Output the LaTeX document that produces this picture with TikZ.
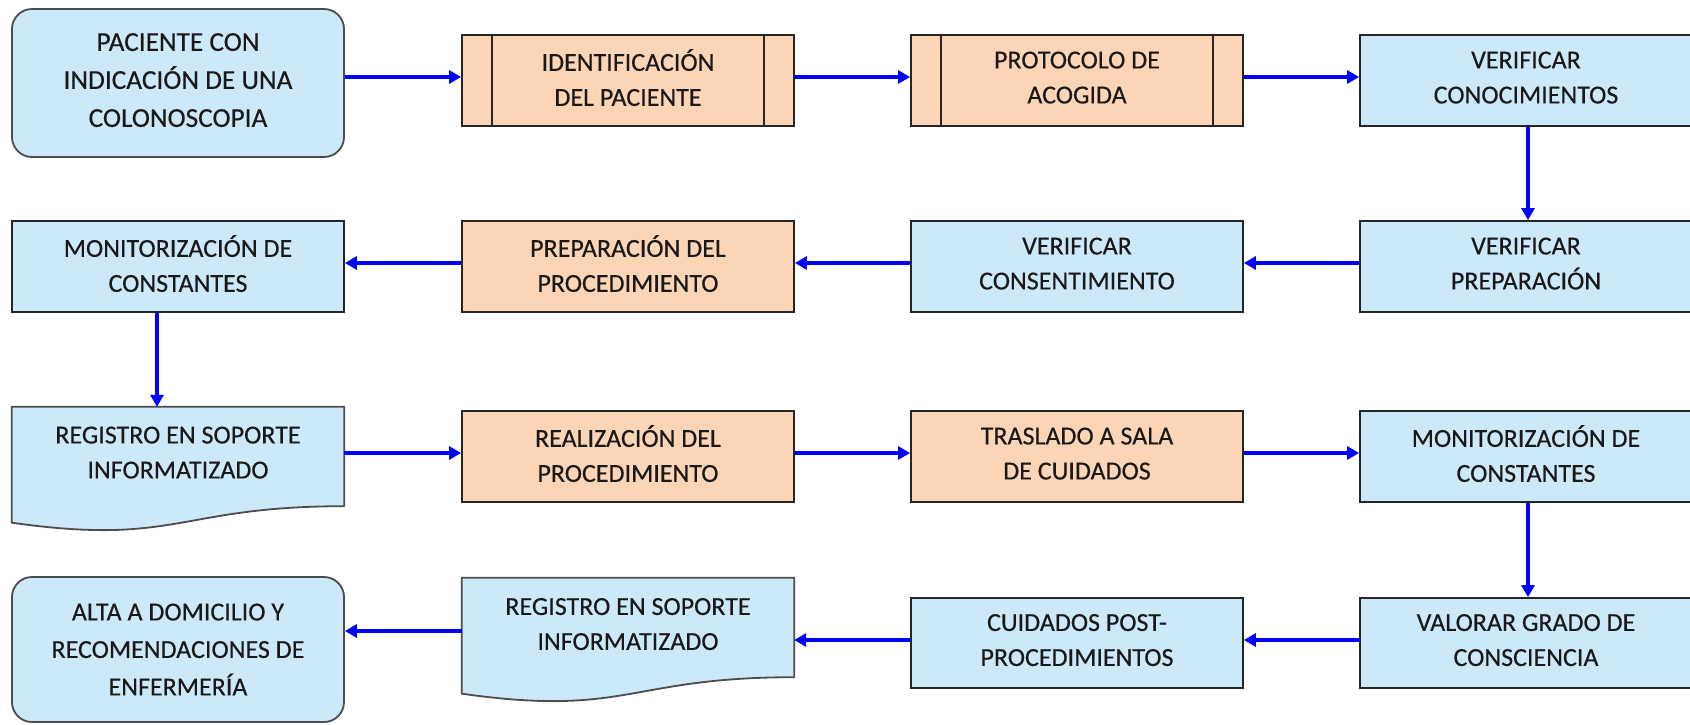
\documentclass[tikz,border=0pt]{standalone}
\usepackage{fontspec}
\setmainfont{Carlito}[FakeBold=0.35]
\usetikzlibrary{arrows.meta,calc}
\definecolor{boxblue}{RGB}{204,233,250}
\definecolor{boxorange}{RGB}{251,213,181}
\pgfdeclarelayer{background}
\pgfsetlayers{background,main}
\begin{document}
\begin{tikzpicture}[x=1pt,y=-1pt,
  base/.style={draw=black!85, line width=1.8pt, align=center,
    font=\fontsize{26}{35}\selectfont, text=black!90,
    minimum width=332pt, inner sep=0pt, text depth=6pt},
  bluebox/.style={base, fill=boxblue, minimum height=91pt},
  orangebox/.style={base, fill=boxorange, minimum height=91pt},
  roundbox/.style={base, fill=boxblue, rounded corners=20pt, draw=black!70,
    font=\fontsize{26}{37.5}\selectfont},
  docregion/.style={align=center, font=\fontsize{26}{35}\selectfont, text=black!90,
    minimum width=332pt, minimum height=99pt, inner sep=0pt, text depth=8pt},
  docshape/.style={draw=black!70, fill=boxblue, line width=1.8pt, line join=round},
  bar/.style={draw=black!85, line width=1.8pt},
  arr/.style={draw=blue, line width=3.2pt, -{Triangle[length=12pt,width=13pt]}}
]
\useasboundingbox (0,0) rectangle (1690,724);

% Row 1
\node[roundbox, minimum height=148pt, font=\fontsize{27.3}{38}\selectfont] (n1) at (178,83) {PACIENTE CON\\INDICACIÓN DE UNA\\COLONOSCOPIA};
\node[orangebox] (n2) at (628,80.5) {IDENTIFICACIÓN\\DEL PACIENTE};
\node[orangebox] (n3) at (1077,80.5) {PROTOCOLO DE\\ACOGIDA};
\node[bluebox] (n4) at (1526,80.5) {VERIFICAR\\CONOCIMIENTOS};
\foreach \n in {n2,n3}{
  \draw[bar] ($(\n.north west)+(31,0)$) -- ($(\n.south west)+(31,0)$);
  \draw[bar] ($(\n.north east)+(-31,0)$) -- ($(\n.south east)+(-31,0)$);
}

% Row 2
\node[bluebox] (n5) at (1526,266.5) {VERIFICAR\\PREPARACIÓN};
\node[bluebox] (n6) at (1077,266.5) {VERIFICAR\\CONSENTIMIENTO};
\node[orangebox] (n7) at (628,266.5) {PREPARACIÓN DEL\\PROCEDIMIENTO};
\node[bluebox] (n8) at (178,266.5) {MONITORIZACIÓN DE\\CONSTANTES};

% Row 3
\node[docregion] (n9) at (178,456.5) {REGISTRO EN SOPORTE\\INFORMATIZADO};
\node[orangebox] (n10) at (628,456.5) {REALIZACIÓN DEL\\PROCEDIMIENTO};
\node[orangebox] (n11) at (1077,456.5) {TRASLADO A SALA\\DE CUIDADOS};
\node[bluebox] (n12) at (1526,456.5) {MONITORIZACIÓN DE\\CONSTANTES};

% Row 4
\node[bluebox, minimum height=90pt] (n13) at (1526,643) {VALORAR GRADO DE\\CONSCIENCIA};
\node[bluebox, minimum height=90pt] (n14) at (1077,643) {CUIDADOS POST-\\PROCEDIMIENTOS};
\node[docregion, text depth=7pt] (n15) at (628,627.5) {REGISTRO EN SOPORTE\\INFORMATIZADO};
\node[roundbox, minimum height=145pt, text depth=0pt] (n16) at (178,649.5) {ALTA A DOMICILIO Y\\RECOMENDACIONES DE\\ENFERMERÍA};

% document shapes
\begin{pgfonlayer}{background}
\foreach \n in {n9,n15}{
  \path[docshape] (\n.north west) -- (\n.north east) -- (\n.south east)
    .. controls (\n.south) and ($(\n.south)+(0,40)$) .. ($(\n.south west)+(0,16.5)$) -- cycle;
}
\end{pgfonlayer}

% Connectors
\draw[arr] ([yshift=6pt]n1.east) -- ([yshift=3.5pt]n2.west);
\draw[arr] ([yshift=3.5pt]n2.east) -- ([yshift=3.5pt]n3.west);
\draw[arr] ([yshift=3.5pt]n3.east) -- ([yshift=3.5pt]n4.west);
\draw[arr] ([xshift=2pt]n4.south) -- ([xshift=2pt]n5.north);
\draw[arr] ([yshift=3.5pt]n5.west) -- ([yshift=3.5pt]n6.east);
\draw[arr] ([yshift=3.5pt]n6.west) -- ([yshift=3.5pt]n7.east);
\draw[arr] ([yshift=3.5pt]n7.west) -- ([yshift=3.5pt]n8.east);
\draw[arr] ([xshift=-21pt]n8.south) -- ([xshift=-21pt]n9.north);
\draw[arr] ([yshift=3.5pt]n9.east) -- ([yshift=3.5pt]n10.west);
\draw[arr] ([yshift=3.5pt]n10.east) -- ([yshift=3.5pt]n11.west);
\draw[arr] ([yshift=3.5pt]n11.east) -- ([yshift=3.5pt]n12.west);
\draw[arr] ([xshift=2pt]n12.south) -- ([xshift=2pt]n13.north);
\draw[arr] ([yshift=3pt]n13.west) -- ([yshift=3pt]n14.east);
\draw[arr] ([yshift=3pt]n14.west) -- ([yshift=-12.5pt]n15.east);
\draw[arr] ([yshift=-3.5pt]n15.west) -- ([yshift=18.5pt]n16.east);
\end{tikzpicture}
\end{document}
